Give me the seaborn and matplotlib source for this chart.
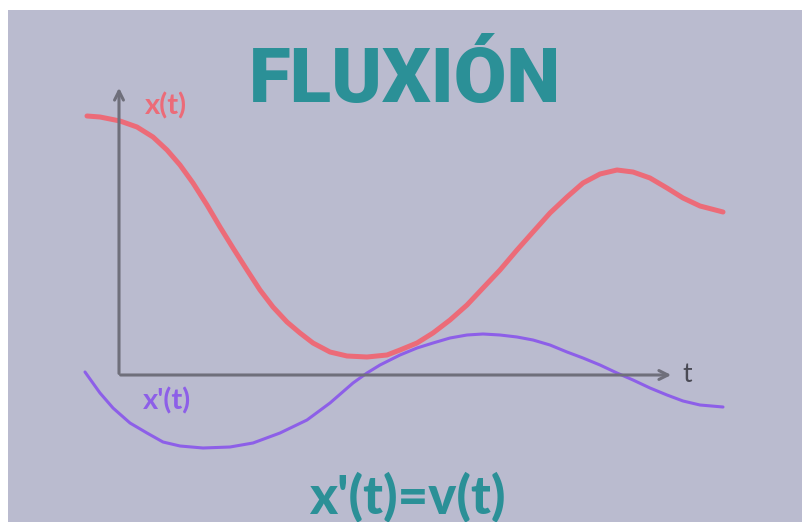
import numpy as np
import pandas as pd
import matplotlib
matplotlib.use("Agg")
import matplotlib.pyplot as plt
import seaborn as sns

# position curve x(t) (t axis origin = 0)
t_pos = [-0.32, -0.19, 0.01, 0.18, 0.34, 0.48, 0.61, 0.74, 0.88, 1.01, 1.14,
         1.28, 1.41, 1.54, 1.68, 1.81, 1.94, 2.11, 2.28, 2.48, 2.68, 2.81,
         2.98, 3.14, 3.31, 3.48, 3.64, 3.81, 3.98, 4.14, 4.31, 4.48, 4.64,
         4.81, 4.98, 5.14, 5.31, 5.48, 5.64, 5.81, 6.04]
x_pos = [2.59, 2.58, 2.54, 2.48, 2.38, 2.25, 2.10, 1.92, 1.70, 1.48, 1.27,
         1.05, 0.85, 0.68, 0.53, 0.42, 0.32, 0.23, 0.19, 0.18, 0.20, 0.25,
         0.32, 0.42, 0.55, 0.70, 0.87, 1.05, 1.25, 1.43, 1.62, 1.78, 1.92,
         2.01, 2.05, 2.03, 1.97, 1.87, 1.77, 1.69, 1.63]

# velocity curve x'(t)
t_vel = [-0.34, -0.19, -0.06, 0.11, 0.28, 0.44, 0.61, 0.84, 1.11, 1.34, 1.61,
         1.88, 2.11, 2.34, 2.48, 2.61, 2.81, 2.98, 3.14, 3.31, 3.48, 3.64,
         3.81, 3.98, 4.14, 4.31, 4.48, 4.64, 4.81, 4.98, 5.14, 5.31, 5.48,
         5.64, 5.81, 6.04]
x_vel = [0.03, -0.18, -0.33, -0.48, -0.58, -0.67, -0.71, -0.73, -0.72, -0.68, -0.58,
         -0.45, -0.28, -0.08, 0.02, 0.10, 0.20, 0.27, 0.32, 0.37, 0.40, 0.41,
         0.40, 0.38, 0.35, 0.30, 0.23, 0.17, 0.10, 0.02, -0.05, -0.13, -0.20,
         -0.26, -0.30, -0.32]

title = "FLUXIÓN"
formula = "x'(t)=v(t)"
label_pos = "x(t)"
label_vel = "x'(t)"
label_t = "t"

BG = "#babbcf"
TEAL = "#2b9097"
RED = "#ec6b78"
PURPLE = "#8d5fe8"
GREY = "#6f6f7b"

sns.set_style("white")
plt.rcParams['font.family'] = ['Lato', 'DejaVu Sans']

df_pos = pd.DataFrame({"t": t_pos, "x": x_pos})
df_vel = pd.DataFrame({"t": t_vel, "x": x_vel})

fig = plt.figure(figsize=(8.02, 5.22), dpi=100, facecolor="white")
ax = fig.add_axes([8 / 802, 0, 794 / 802, 512 / 522])
ax.set_facecolor(BG)

# axes with arrow heads
ax.annotate("", xy=(0, 2.90), xytext=(0, -0.012),
            arrowprops=dict(arrowstyle="->", color=GREY, lw=2.2, mutation_scale=16))
ax.annotate("", xy=(5.55, 0), xytext=(-0.012, 0),
            arrowprops=dict(arrowstyle="->", color=GREY, lw=2.2, mutation_scale=16))

sns.lineplot(data=df_pos, x="t", y="x", ax=ax, color=RED, lw=3.6,
             estimator=None, sort=False, solid_capstyle="round", solid_joinstyle="round")
sns.lineplot(data=df_vel, x="t", y="x", ax=ax, color=PURPLE, lw=2.2,
             estimator=None, sort=False, solid_capstyle="round", solid_joinstyle="round")

ax.text(2.86, 2.73, title, color=TEAL, fontsize=55, fontweight="black",
        family=["Roboto", "DejaVu Sans"], ha="center", va="baseline")
ax.text(2.88, -1.38, formula, color=TEAL, fontsize=38, fontweight="black",
        ha="center", va="baseline")
ax.text(0.47, 2.69, label_pos, color=RED, fontsize=21, fontweight="bold",
        ha="center", va="center")
ax.text(0.48, -0.26, label_vel, color=PURPLE, fontsize=21, fontweight="bold",
        ha="center", va="center")
ax.text(5.63, 0.01, label_t, color="#4a4a55", fontsize=19,
        ha="left", va="center")

ax.set_xlim(-1.11, 6.83)
ax.set_ylim(-1.47, 3.65)
ax.set_xlabel("")
ax.set_ylabel("")
ax.set_xticks([])
ax.set_yticks([])
for s in ax.spines.values():
    s.set_visible(False)

fig.savefig("out.png", dpi=100, facecolor="white")
